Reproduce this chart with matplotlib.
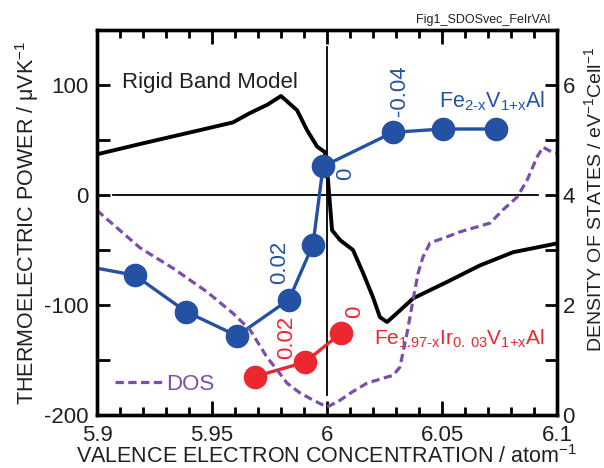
import numpy as np
import matplotlib
matplotlib.use("Agg")
import matplotlib.pyplot as plt
from matplotlib.ticker import MultipleLocator, FixedLocator, FixedFormatter

plt.rcParams['font.family'] = ['Liberation Sans', 'DejaVu Sans']
plt.rcParams['mathtext.fontset'] = 'custom'
plt.rcParams['mathtext.rm'] = 'Liberation Sans'
plt.rcParams['mathtext.default'] = 'regular'

TXT = '#231f20'
BLUE = '#2451a4'
RED = '#ec2730'
PURPLE = '#7a4fa9'

# rigid band model thermopower (uV/K)
rbm_x = [5.9, 5.92, 5.9448, 5.9591, 5.9665, 5.974, 5.98, 5.987, 5.9913, 5.9957,
         5.9991, 6.0005, 6.0022, 6.0057, 6.0113, 6.0157, 6.02, 6.023, 6.0261,
         6.0317, 6.0374, 6.0522, 6.0665, 6.0809, 6.1]
rbm_S = [37, 47, 59, 66, 74.5, 82, 90, 77, 59, 44,
         39, 12, -32, -41, -50, -71, -93, -111, -115.5,
         -105, -94, -79, -64, -52, -44]

# Fe2-xV1+xAl measured
fe_x = [5.8935, 5.9165, 5.9387, 5.9609, 5.9835, 5.9939, 5.9983, 6.0287, 6.0504, 6.0735]
fe_S = [-64, -73, -106, -128, -95, -45, 26, 57, 60, 60]

# Fe1.97-xIr0.03V1+xAl measured
ir_x = [5.9687, 5.9904, 6.0061]
ir_S = [-165, -152, -125.5]

# density of states (states / eV cell)
dos_x = [5.9, 5.9187, 5.933, 5.9478, 5.9591, 5.9665, 5.9739, 5.9783, 5.9826, 5.9883,
         5.994, 6.0, 6.005, 6.011, 6.0174, 6.0261, 6.0287, 6.0317, 6.0348, 6.0374,
         6.0396, 6.0417, 6.0448, 6.0522, 6.0578, 6.0652, 6.0709, 6.0765, 6.0826,
         6.087, 6.0913, 6.0939, 6.0978, 6.1]
dos_D = [3.72, 3.04, 2.67, 2.24, 1.85, 1.55, 1.05, 0.82, 0.58, 0.40,
         0.27, 0.145, 0.25, 0.42, 0.58, 0.69, 0.72, 0.87, 1.49, 2.09,
         2.58, 2.87, 3.13, 3.24, 3.33, 3.42, 3.49, 3.73, 3.96,
         4.27, 4.69, 4.87, 4.78, 4.76]

# composition labels on the points
fe_lab = [("0.02", 5.9796, -61), ("0", 6.0083, 19), ("-0.04", 6.0317, 94.5)]
ir_lab = [("0.02", 5.9826, -129), ("0", 6.0122, -106)]

fig = plt.figure(figsize=(6.04, 4.68), dpi=100)
ax = fig.add_axes([0.1606, 0.1132, 0.7616, 0.8227])
ax2 = ax.twinx()

ax.set_xlim(5.9, 6.1)
ax.set_ylim(-200, 150)
ax2.set_ylim(0, 7)

ax.plot([5.907, 6.0917], [0, 0], color='black', lw=1.3, zorder=1)
ax.plot([6.0, 6.0], [134.5, -182], color='black', lw=1.3, zorder=1)

ax.plot(rbm_x, rbm_S, color='black', lw=2.8, zorder=3)
ax.plot(fe_x, fe_S, color=BLUE, lw=2.4, marker='o', ms=16, zorder=4)
ax.plot(ir_x, ir_S, color=RED, lw=2.4, marker='o', ms=16, zorder=4)

dos_line, = ax2.plot(dos_x, dos_D, color=PURPLE, lw=2.3, dashes=(2.6, 1.4), label='DOS')

for t, x, y in fe_lab:
    ax.text(x, y, t, color=BLUE, fontsize=16, rotation=90, ha='center', va='center')
for t, x, y in ir_lab:
    ax.text(x, y, t, color=RED, fontsize=16, rotation=90, ha='center', va='center')

ax.text(5.9109, 102.7, 'Rigid Band Model', color=TXT, fontsize=16, ha='left', va='center')
ax.text(6.0487, 80, r'Fe$_{2\text{-}x}$V$_{1\text{+}x}$Al', color=BLUE, fontsize=15.5,
        ha='left', va='baseline')
ax.text(6.0204, -136, r'Fe$_{1.97\text{-}x}$Ir$_{0.\,03}$V$_{1\text{+}x}$Al', color=RED,
        fontsize=15, ha='left', va='baseline')

leg = ax2.legend(handles=[dos_line], loc='center left', bbox_to_anchor=(0.04, 0.08),
                 frameon=False, fontsize=16, handlelength=2.1, handletextpad=0.2,
                 borderpad=0, borderaxespad=0)
for t in leg.get_texts():
    t.set_color(PURPLE)

ax.xaxis.set_minor_locator(MultipleLocator(0.01))
ax.set_xticks([5.9, 5.95, 6.0, 6.05, 6.1])
ax.set_xticklabels(['5.9', '5.95', '6', '6.05', '6.1'])
ax.yaxis.set_major_locator(FixedLocator([-200, -150, -100, -50, 0, 50, 100]))
ax.yaxis.set_major_formatter(FixedFormatter(['-200', '', '-100', '', '0', '', '100']))
ax2.yaxis.set_major_locator(FixedLocator([0, 1, 2, 3, 4, 5, 6]))
ax2.yaxis.set_major_formatter(FixedFormatter(['0', '', '2', '', '4', '', '6']))

ax.tick_params(axis='x', which='both', direction='in', top=True, width=2, labelsize=16,
               colors='black', labelcolor=TXT, pad=7.5)
ax.tick_params(axis='x', which='major', length=10)
ax.tick_params(axis='x', which='minor', length=6)
ax.tick_params(axis='y', direction='in', length=9, width=2, labelsize=16,
               labelcolor=TXT, pad=6)
ax2.tick_params(axis='y', direction='in', length=9, width=2, labelsize=16,
                labelcolor=TXT, pad=4)

for a in (ax, ax2):
    for s in a.spines.values():
        s.set_linewidth(2.4)

ax.set_xlabel('VALENCE ELECTRON CONCENTRATION / atom$^{-1}$', fontsize=15.5, color=TXT, labelpad=-1)
ax.set_ylabel('THERMOELECTRIC POWER / \u03bcVK$^{-1}$', fontsize=15.5, color=TXT, labelpad=2)
ax2.set_ylabel('DENSITY OF STATES / eV$^{-1}$Cell$^{-1}$', fontsize=14, color=TXT,
               rotation=90, va='center', ha='center')
ax2.yaxis.set_label_coords(1.08, 0.56)

fig.text(0.9106, 0.957, 'Fig1_SDOSvec_FeIrVAl', fontsize=9, color=TXT, ha='right', va='center')

fig.savefig('out.png', dpi=100)
